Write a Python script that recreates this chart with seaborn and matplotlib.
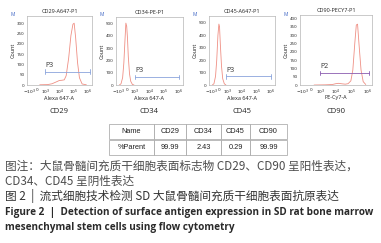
import matplotlib
matplotlib.use("Agg")
import matplotlib.pyplot as plt
import seaborn as sns

# panel data (histograms)
markers = ["CD29", "CD34", "CD45", "CD90"]
titles = ["CD29-A647-P1", "CD34-PE-P1", "CD45-A647-P1", "CD90-PECY7-P1"]
channels = ["Alexa 647-A", "Alexa 647-A", "Alexa 647-A", "PE-Cy7-A"]
gate_names = ["P3", "P3", "P3", "P2"]

cd29_x = [300, 1500, 3000, 6000, 10000, 15000, 22000, 30000, 45000, 65000, 90000, 110000, 140000, 190000, 260000, 400000, 800000]
cd29_y = [1, 2, 6, 15, 22, 23, 25, 45, 130, 240, 295, 300, 230, 110, 35, 5, 1]
cd34_x = [-900, -700, -500, -350, -200, -100, 0, 100, 200, 350, 500, 700, 900]
cd34_y = [0, 10, 60, 180, 380, 505, 480, 380, 230, 90, 30, 5, 0]
cd45_x = [-900, -700, -500, -350, -200, -80, 0, 100, 250, 400, 600, 800]
cd45_y = [0, 10, 70, 200, 400, 490, 470, 330, 150, 50, 10, 0]
cd90_x = [300, 2000, 6000, 10000, 15000, 25000, 40000, 60000, 90000, 120000, 160000, 200000, 240000, 300000, 400000, 550000, 800000]
cd90_y = [0, 1, 3, 8, 10, 7, 5, 8, 25, 90, 250, 360, 365, 240, 90, 20, 3]

gate_lo = [1000, 1000, 800, 1000]
gate_hi = [1400000, 1000000, 1000000, 1200000]
gate_y = [65, 65, 70, 72]

y_max = [335, 555, 555, 420]
y_step = [50, 100, 100, 50]
y_top_tick = [300, 500, 500, 400]

x_ticks = [-1000, 0, 1000, 10000, 100000, 1000000]
x_ticklabels = ["$-10^3$", "0", "$10^3$", "$10^4$", "$10^5$", "$10^6$"]

# table
table_cols = ["Name", "CD29", "CD34", "CD45", "CD90"]
table_row = ["%Parent", "99.99", "2.43", "0.29", "99.99"]

caption_cn1 = "图注：大鼠骨髓间充质干细胞表面标志物 CD29、CD90 呈阳性表达，"
caption_cn2 = "CD34、CD45 呈阴性表达"
caption_cn3 = "图 2  |  流式细胞技术检测 SD 大鼠骨髓间充质干细胞表面抗原表达"
caption_en1 = "Figure 2  |  Detection of surface antigen expression in SD rat bone marrow"
caption_en2 = "mesenchymal stem cells using flow cytometry"

sns.set_style("white")
plt.rcParams["font.family"] = ["Open Sans", "DejaVu Sans"]

W, H = 381, 243
fig = plt.figure(figsize=(W / 100, H / 100), dpi=100)


def box(l, t, r, b):
    return [l / W, 1 - b / H, (r - l) / W, (b - t) / H]


panel_boxes = [(27, 16, 92, 85), (116, 17, 183, 85), (209, 16, 275, 85), (300, 15, 372, 85)]
data = [(cd29_x, cd29_y), (cd34_x, cd34_y), (cd45_x, cd45_y), (cd90_x, cd90_y)]
hist_col = "#ef8f84"
gate_cols = ["#8aa4dc", "#8aa4dc", "#8aa4dc", "#8a5cb0"]

for i in range(4):
    l, t, r, b = panel_boxes[i]
    ax = fig.add_axes(box(l, t, r, b))
    xs, ys = data[i]
    sns.lineplot(x=xs, y=ys, ax=ax, color=hist_col, linewidth=0.6)
    sns.lineplot(x=[gate_lo[i], gate_hi[i]], y=[gate_y[i], gate_y[i]], ax=ax,
                 color=gate_cols[i], linewidth=0.6)
    cap = y_max[i] * 0.035
    for gx in (gate_lo[i], gate_hi[i]):
        ax.plot([gx, gx], [gate_y[i] - cap, gate_y[i] + cap], color=gate_cols[i], lw=0.6)
    ax.text(gate_lo[i] * 1.05, gate_y[i] + y_max[i] * 0.04, gate_names[i],
            fontsize=5, va="bottom", ha="left", color="#333333")
    ax.set_xscale("symlog", linthresh=1000, linscale=0.5)
    ax.set_xlim(-1500, 2000000)
    ax.set_ylim(0, y_max[i])
    ax.set_xticks(x_ticks)
    ax.set_xticklabels(x_ticklabels)
    ax.xaxis.set_minor_locator(matplotlib.ticker.NullLocator())
    ax.set_yticks(list(range(0, y_top_tick[i] + 1, y_step[i])))
    ax.tick_params(labelsize=3.2, length=1, width=0.4, pad=0.8, colors="#222222")
    for s in ax.spines.values():
        s.set_linewidth(0.5)
        s.set_color("#b5b5b5")
    ax.set_ylabel("Count", fontsize=4, labelpad=1, color="#222222")
    ax.set_title(titles[i], fontsize=4, pad=2.5, color="#222222")
    ax.set_xlabel("")
    cx = (l + r) / 2
    fig.text(cx / W, 1 - 98 / H, channels[i], fontsize=4, ha="center", va="center", color="#222222")
    fig.text(cx / W, 1 - 111 / H, markers[i], fontsize=5.5, ha="center", va="center", color="#222222")
    fig.text((l - 14) / W, 1 - 14 / H, "M", fontsize=3.5, ha="center", va="center", color="#3b63c4")

# table
tax = fig.add_axes(box(109, 124, 287, 155))
tax.axis("off")
widths = [45, 32, 35, 29, 37]
tot = sum(widths)
tbl = tax.table(cellText=[table_cols, table_row], bbox=[0, 0, 1, 1],
                colWidths=[w / tot for w in widths], cellLoc="center")
tbl.auto_set_font_size(False)
for (rr, cc), cell in tbl.get_celld().items():
    cell.set_edgecolor("#a0a0a0")
    cell.set_linewidth(0.5)
    cell.get_text().set_fontsize(5.3)
    cell.get_text().set_fontfamily(["Liberation Sans", "DejaVu Sans"])
    cell.get_text().set_color("#222222")

cn = ["Noto Sans CJK SC", "DejaVu Sans"]
fig.text(5 / W, 1 - 166 / H, caption_cn1, fontsize=8.4, family=cn, va="center", color="#4d4d4d")
fig.text(5 / W, 1 - 181 / H, caption_cn2, fontsize=8.4, family=cn, va="center", color="#4d4d4d")
fig.text(5 / W, 1 - 196 / H, caption_cn3, fontsize=8.4, family=cn, va="center", color="#333333")
fig.text(5 / W, 1 - 212 / H, caption_en1, fontsize=7.2, family=["Open Sans", "DejaVu Sans"],
         weight="bold", va="center", color="#2a2a2a")
fig.text(5 / W, 1 - 227 / H, caption_en2, fontsize=7.2, family=["Open Sans", "DejaVu Sans"],
         weight="bold", va="center", color="#2a2a2a")

fig.savefig("out.png", dpi=100)
